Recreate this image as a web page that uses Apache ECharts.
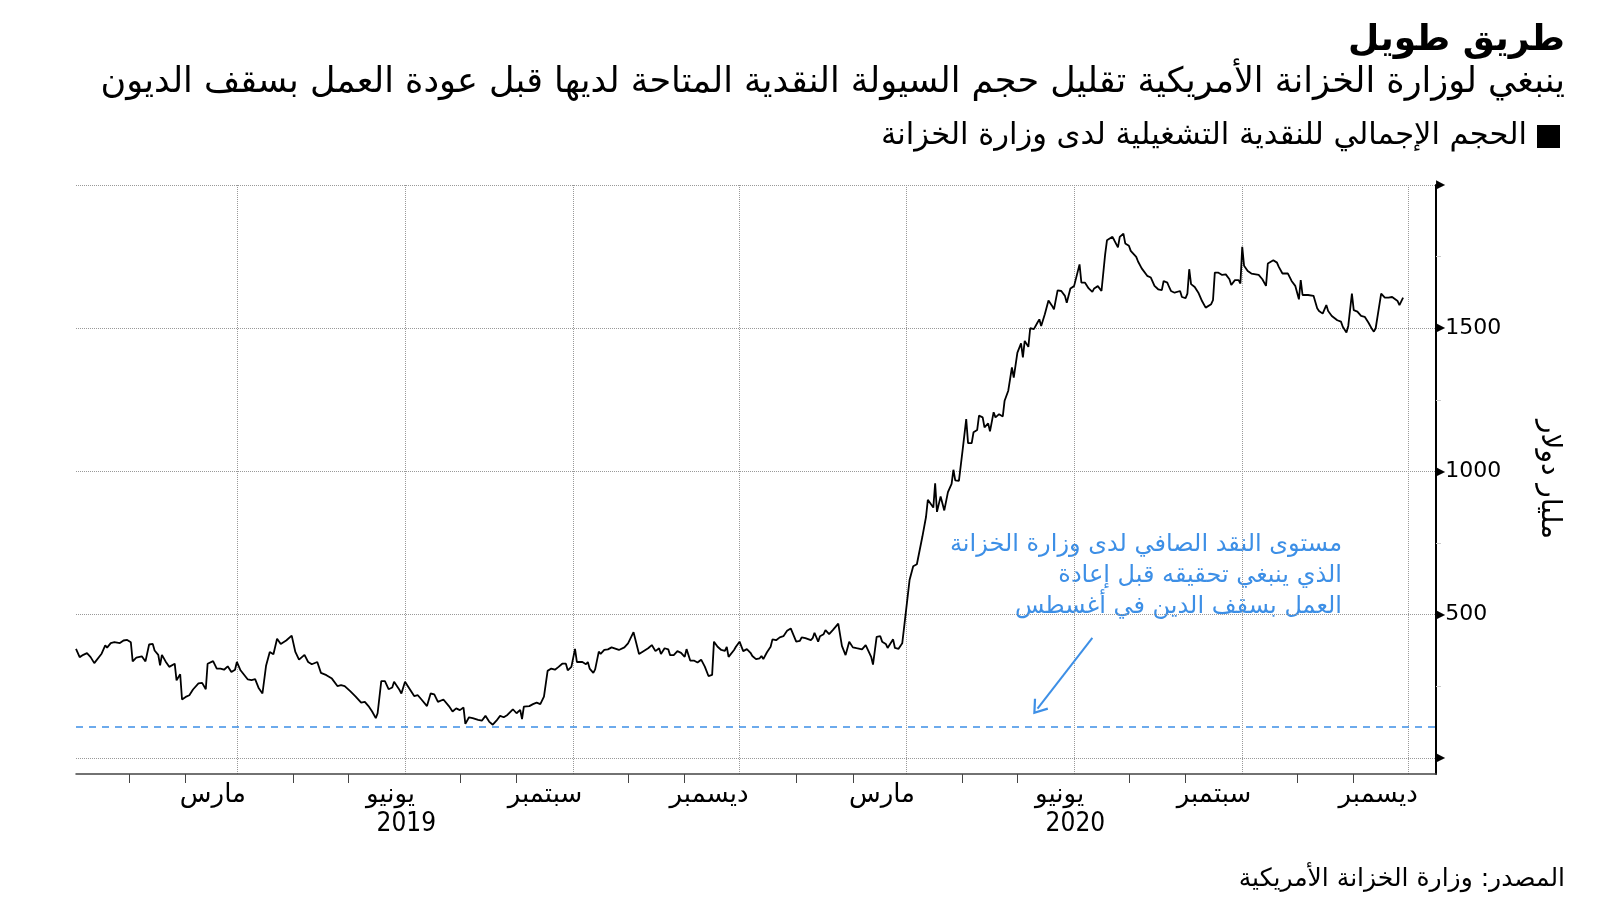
<!DOCTYPE html>
<html><head><meta charset="utf-8">
<script src="https://cdn.jsdelivr.net/npm/echarts@6/dist/echarts.min.js"></script>
<style>html,body{margin:0;padding:0;background:#fff}#c{width:1600px;height:900px}</style>
</head><body><div id="c"></div>
<script>
const titleText = 'طريق طويل';
const subtitleText = 'ينبغي لوزارة الخزانة الأمريكية تقليل حجم السيولة النقدية المتاحة لديها قبل عودة العمل بسقف الديون';
const seriesName = 'الحجم الإجمالي للنقدية التشغيلية لدى وزارة الخزانة';
const yAxisName = 'مليار دولار';
const sourceText = 'المصدر: وزارة الخزانة الأمريكية';
const annotationLines = ['مستوى النقد الصافي لدى وزارة الخزانة', 'الذي ينبغي تحقيقه قبل إعادة', 'العمل بسقف الدين في أغسطس'];

const dates = [
'2018-12-03','2018-12-05','2018-12-07','2018-12-09','2018-12-11','2018-12-13','2018-12-14','2018-12-17','2018-12-19','2018-12-20','2018-12-22','2018-12-24','2018-12-27','2018-12-29','2018-12-31',
'2019-01-02','2019-01-03','2019-01-05','2019-01-08','2019-01-10','2019-01-12','2019-01-14','2019-01-15','2019-01-17','2019-01-18','2019-01-19','2019-01-21','2019-01-23','2019-01-26','2019-01-27','2019-01-29','2019-01-30',
'2019-02-01','2019-02-03','2019-02-05','2019-02-08','2019-02-10','2019-02-12','2019-02-13','2019-02-16','2019-02-18','2019-02-20','2019-02-22','2019-02-24','2019-02-26','2019-02-28',
'2019-03-01','2019-03-03','2019-03-07','2019-03-09','2019-03-11','2019-03-13','2019-03-15','2019-03-17','2019-03-19','2019-03-21','2019-03-23','2019-03-25','2019-03-28','2019-03-31',
'2019-04-02','2019-04-04','2019-04-07','2019-04-09','2019-04-11','2019-04-14','2019-04-16','2019-04-19','2019-04-22','2019-04-25','2019-04-27','2019-04-29',
'2019-05-02','2019-05-05','2019-05-08','2019-05-10','2019-05-12','2019-05-14','2019-05-16','2019-05-17','2019-05-19','2019-05-21','2019-05-23','2019-05-25','2019-05-26','2019-05-29','2019-05-30',
'2019-06-01','2019-06-03','2019-06-06','2019-06-08','2019-06-10','2019-06-13','2019-06-15','2019-06-17','2019-06-19','2019-06-22','2019-06-25','2019-06-27','2019-06-29',
'2019-07-01','2019-07-03','2019-07-04','2019-07-06','2019-07-08','2019-07-11','2019-07-13','2019-07-15','2019-07-17','2019-07-19','2019-07-21','2019-07-23','2019-07-25','2019-07-27','2019-07-30',
'2019-08-01','2019-08-03','2019-08-04','2019-08-05','2019-08-08','2019-08-10','2019-08-12','2019-08-14','2019-08-16','2019-08-18','2019-08-20','2019-08-22','2019-08-24','2019-08-26','2019-08-28','2019-08-29','2019-08-31',
'2019-09-02','2019-09-03','2019-09-06','2019-09-08','2019-09-09','2019-09-10','2019-09-12','2019-09-13','2019-09-15','2019-09-16','2019-09-18','2019-09-20','2019-09-22','2019-09-26','2019-09-29','2019-10-01',
'2019-10-04','2019-10-07','2019-10-09','2019-10-12','2019-10-14','2019-10-16','2019-10-18','2019-10-19','2019-10-21','2019-10-23','2019-10-24','2019-10-26','2019-10-28','2019-10-30','2019-11-01','2019-11-02',
'2019-11-04','2019-11-06','2019-11-08','2019-11-10','2019-11-12','2019-11-14','2019-11-16','2019-11-17','2019-11-19','2019-11-21','2019-11-23','2019-11-24','2019-11-25','2019-11-26','2019-11-28','2019-11-29',
'2019-12-01','2019-12-03','2019-12-05','2019-12-07','2019-12-08','2019-12-10','2019-12-12','2019-12-13','2019-12-14','2019-12-16','2019-12-18','2019-12-19','2019-12-21','2019-12-23','2019-12-25','2019-12-27','2019-12-29','2019-12-30',
'2020-01-01','2020-01-03','2020-01-04','2020-01-06','2020-01-09','2020-01-10','2020-01-11','2020-01-13','2020-01-14','2020-01-16','2020-01-17','2020-01-19','2020-01-21','2020-01-22','2020-01-24','2020-01-26','2020-01-28','2020-01-30',
'2020-02-01','2020-02-03','2020-02-06','2020-02-08','2020-02-09','2020-02-11','2020-02-12','2020-02-13','2020-02-14','2020-02-16','2020-02-17','2020-02-19','2020-02-20','2020-02-23','2020-02-24','2020-02-26','2020-02-28','2020-02-29',
'2020-03-01','2020-03-02','2020-03-03','2020-03-05','2020-03-07','2020-03-10','2020-03-12','2020-03-13','2020-03-16','2020-03-17','2020-03-18','2020-03-20','2020-03-22','2020-03-24','2020-03-26','2020-03-27','2020-03-28','2020-03-30','2020-04-01','2020-04-03',
'2020-04-04','2020-04-06','2020-04-07','2020-04-09','2020-04-10','2020-04-12','2020-04-13','2020-04-15','2020-04-16','2020-04-18','2020-04-19','2020-04-21','2020-04-23','2020-04-24','2020-04-26','2020-04-28','2020-04-29','2020-05-01','2020-05-03',
'2020-05-04','2020-05-05','2020-05-07','2020-05-08','2020-05-10','2020-05-12','2020-05-13','2020-05-14','2020-05-16','2020-05-17','2020-05-18','2020-05-20','2020-05-21','2020-05-23','2020-05-25','2020-05-27','2020-05-28','2020-05-30','2020-06-01','2020-06-02',
'2020-06-04','2020-06-05','2020-06-07','2020-06-09','2020-06-11','2020-06-12','2020-06-14','2020-06-15','2020-06-16','2020-06-18','2020-06-19','2020-06-22','2020-06-23','2020-06-25','2020-06-26','2020-06-28','2020-06-29','2020-07-01','2020-07-02',
'2020-07-05','2020-07-06','2020-07-08','2020-07-09','2020-07-11','2020-07-13','2020-07-15','2020-07-17','2020-07-18','2020-07-19','2020-07-20','2020-07-22','2020-07-23','2020-07-24','2020-07-26','2020-07-27','2020-07-29','2020-07-30','2020-08-01','2020-08-02','2020-08-03',
'2020-08-04','2020-08-06','2020-08-08','2020-08-10','2020-08-12','2020-08-13','2020-08-15','2020-08-16','2020-08-17','2020-08-19','2020-08-21','2020-08-23','2020-08-25','2020-08-26','2020-08-28','2020-08-30','2020-08-31',
'2020-09-01','2020-09-02','2020-09-04','2020-09-06','2020-09-07','2020-09-10','2020-09-12','2020-09-14','2020-09-15','2020-09-18','2020-09-20','2020-09-21','2020-09-23','2020-09-26','2020-09-28','2020-09-30',
'2020-10-02','2020-10-03','2020-10-04','2020-10-07','2020-10-10','2020-10-12','2020-10-13','2020-10-15','2020-10-17','2020-10-18','2020-10-20','2020-10-23','2020-10-25','2020-10-26','2020-10-28','2020-10-29','2020-10-31',
'2020-11-01','2020-11-03','2020-11-05','2020-11-07','2020-11-09','2020-11-11','2020-11-12','2020-11-13','2020-11-16','2020-11-18','2020-11-20','2020-11-22','2020-11-25','2020-11-26','2020-11-27','2020-11-28'
];
const values = [
381,352,360,366,352,331,335,364,393,385,401,404,401,410,412,
404,337,350,355,337,396,398,375,360,323,360,337,318,329,271,292,204,
213,219,239,260,262,240,329,338,312,312,308,320,300,308,
335,306,274,272,275,243,225,323,370,362,416,398,410,427,
370,343,360,335,327,335,297,289,277,251,254,251,
233,214,193,196,181,162,139,156,268,268,240,246,266,237,225,
266,246,216,219,204,181,225,222,196,204,181,162,173,
167,176,119,142,139,133,130,147,127,116,130,147,142,150,170,
156,168,136,179,181,188,193,188,214,304,312,308,318,329,329,306,318,
381,335,335,327,335,312,297,309,371,363,377,379,386,377,386,400,
439,363,371,383,394,373,383,363,383,379,359,359,373,367,353,380,
340,340,333,343,319,286,290,406,388,377,374,388,353,356,377,388,
406,373,380,367,356,345,348,356,345,369,388,414,411,421,425,444,452,446,
406,409,421,418,411,418,437,406,425,432,446,432,446,449,469,391,359,406,
386,383,379,394,388,353,326,330,423,425,406,398,384,414,384,381,400,406,
510,514,621,669,676,772,841,901,874,959,859,913,864,928,957,1006,969,967,1073,1183,
1099,1099,1137,1145,1195,1189,1154,1168,1140,1207,1189,1200,1192,1247,1282,1363,1328,1415,1447,
1398,1456,1435,1500,1497,1520,1531,1508,1549,1543,1597,1578,1566,1632,1630,1613,1589,1639,1647,1653,
1723,1659,1659,1639,1627,1639,1647,1641,1630,1758,1807,1819,1807,1782,1819,1830,1796,1788,1770,
1749,1733,1709,1705,1683,1677,1648,1636,1640,1633,1665,1659,1644,1630,1624,1630,1630,1609,1605,1621,1706,
1654,1644,1624,1595,1572,1578,1584,1598,1694,1694,1686,1688,1671,1651,1668,1668,1656,
1784,1718,1700,1691,1695,1686,1671,1648,1726,1737,1729,1714,1691,1691,1665,1648,
1601,1668,1616,1616,1613,1570,1560,1551,1581,1560,1543,1528,1523,1505,1485,1508,1621,
1563,1558,1543,1540,1520,1497,1488,1500,1621,1607,1607,1609,1595,1581,1581,1607
];

const xRange = ['2018-12-03', '2020-12-16'];
const quarterStarts = ['2019-03-01','2019-06-01','2019-09-01','2019-12-01','2020-03-01','2020-06-01','2020-09-01','2020-12-01'];
const monthTicks = ['2019-01-01','2019-02-01','2019-04-01','2019-05-01','2019-07-01','2019-08-01','2019-10-01','2019-11-01',
                    '2020-01-01','2020-02-01','2020-04-01','2020-05-01','2020-07-01','2020-08-01','2020-10-01','2020-11-01'];
const monthNames = {2: 'مارس', 5: 'يونيو', 8: 'سبتمبر', 11: 'ديسمبر'};
const yRange = [-56, 2000];
const yTicks = [0, 500, 1000, 1500, 2000];
const yMinorTicks = [250, 750, 1250, 1750];
const targetLevel = 110;
const arrowStart = ['2020-06-11', 419];
const arrowEnd = ['2020-05-12', 172];

const BLUE = '#3d8fe6';
const FONT = '"DejaVu Sans", sans-serif';
const DAY = 86400000;
function ts(s) { const p = s.split('-').map(Number); return Date.UTC(p[0], p[1] - 1, p[2]); }

const seriesData = dates.map((d, i) => [ts(d), values[i]]);
const labelValues = quarterStarts.map(s => {
  const t = ts(s);
  return new Date(t).getUTCMonth() === 5 ? t + 17 * DAY : t + 5 * DAY;
});

const annotationGraphics = annotationLines.map((line, i) => ({
  type: 'text', right: 258, top: 533 + i * 31,
  style: {text: line, font: '24px ' + FONT, fill: BLUE}
}));

const chart = echarts.init(document.getElementById('c'), null, {renderer: 'canvas'});
chart.setOption({
  animation: false,
  backgroundColor: '#fff',
  textStyle: {fontFamily: FONT},
  grid: {left: 76, right: 164, top: 185, bottom: 126, containLabel: false},
  legend: {
    right: 35, top: 116, align: 'right', icon: 'rect', itemWidth: 23, itemHeight: 23,
    textStyle: {fontSize: 30.5, color: '#000', fontFamily: FONT, padding: [0, 5, 0, 0]},
    data: [{name: seriesName, itemStyle: {color: '#000'}}]
  },
  xAxis: [
    {
      type: 'value', min: ts(xRange[0]), max: ts(xRange[1]), position: 'bottom',
      axisLine: {show: true, onZero: false, lineStyle: {color: '#444', width: 1.5}},
      axisTick: {show: true, customValues: monthTicks.map(ts), length: 9, lineStyle: {color: '#444', width: 1}},
      axisLabel: {show: false},
      splitLine: {show: false}
    },
    {
      type: 'value', min: ts(xRange[0]), max: ts(xRange[1]), position: 'bottom',
      axisLine: {show: false, onZero: false},
      axisTick: {show: false, customValues: quarterStarts.map(ts)},
      splitLine: {show: true, lineStyle: {color: '#999', type: 'dotted', width: 1}},
      axisLabel: {
        show: true, customValues: labelValues, align: 'right', margin: 7,
        color: '#000', fontSize: 26, fontFamily: FONT, lineHeight: 29,
        formatter: function (v) {
          const d = new Date(v);
          const m = monthNames[d.getUTCMonth()];
          if (d.getUTCMonth() === 5) return '{m|' + m + '}\n{y|' + d.getUTCFullYear() + '}';
          return '{n|' + m + '}';
        },
        rich: {
          n: {fontSize: 26, color: '#000', fontFamily: FONT, lineHeight: 29},
          m: {fontSize: 26, color: '#000', fontFamily: FONT, lineHeight: 29, padding: [0, 21, 0, 0]},
          y: {fontSize: 26, color: '#000', fontFamily: '"DejaVu Sans Condensed", "DejaVu Sans", sans-serif', lineHeight: 29}
        }
      }
    }
  ],
  yAxis: [
    {
      type: 'value', position: 'right', min: yRange[0], max: yRange[1],
      name: yAxisName, nameLocation: 'middle', nameRotate: -90, nameGap: 99,
      nameTextStyle: {fontSize: 28, color: '#000', fontFamily: FONT},
      axisLine: {show: true, lineStyle: {color: '#000', width: 2}},
      axisTick: {show: false, customValues: yTicks},
      splitLine: {show: true, lineStyle: {color: '#999', type: 'dotted', width: 1}},
      axisLabel: {
        show: true, customValues: yTicks, margin: 0,
        formatter: function (v) {
          return (v === yTicks[0] || v === yTicks[yTicks.length - 1]) ? '{t|▶}' : '{t|▶}{v|' + v + '}';
        },
        rich: {
          t: {fontSize: 12, color: '#000', fontFamily: FONT},
          v: {fontSize: 22, color: '#000', fontFamily: FONT}
        }
      }
    },
    {
      type: 'value', position: 'right', min: yRange[0], max: yRange[1],
      axisLine: {show: false},
      axisTick: {show: true, customValues: yMinorTicks, length: 5, lineStyle: {color: '#ccc'}},
      axisLabel: {show: false},
      splitLine: {show: false}
    }
  ],
  graphic: [
    {type: 'text', right: 35, top: 23, style: {text: titleText, font: 'bold 36px ' + FONT, fill: '#000'}},
    {type: 'text', right: 35, top: 65, style: {text: subtitleText, font: '35px ' + FONT, fill: '#000'}},
    {type: 'text', right: 35, top: 867, style: {text: sourceText, font: '25px ' + FONT, fill: '#000'}}
  ].concat(annotationGraphics),
  series: [{
    name: seriesName, type: 'line', xAxisIndex: 0, yAxisIndex: 0,
    data: seriesData, showSymbol: false, symbol: 'none',
    lineStyle: {color: '#000', width: 1.8}, itemStyle: {color: '#000'},
    markLine: {
      silent: true, animation: false, symbol: ['none', 'none'], label: {show: false},
      data: [
        {yAxis: targetLevel, lineStyle: {color: BLUE, type: [7, 6], width: 1.5}},
        [
          {coord: [ts(arrowStart[0]), arrowStart[1]], symbol: 'none', lineStyle: {color: BLUE, type: 'solid', width: 2}},
          {coord: [ts(arrowEnd[0]), arrowEnd[1]], symbol: 'path://M10,0 L20,15 L18,16.5 L10,4.5 L2,16.5 L0,15 Z', symbolSize: [18, 14]}
        ]
      ]
    }
  }]
});
</script></body></html>
